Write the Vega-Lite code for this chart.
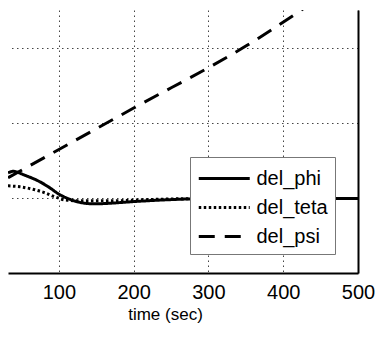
{
  "$schema": "https://vega.github.io/schema/vega-lite/v6.json",
  "width": 350,
  "height": 263,
  "autosize": {"type": "none"},
  "padding": {"left": 8, "top": 10, "right": 19, "bottom": 69},
  "background": "white",
  "config": {
    "view": {"stroke": null},
    "font": "Liberation Sans",
    "axis": {"labelFont": "Liberation Sans", "titleFont": "Liberation Sans", "labelColor": "black", "titleColor": "black"}
  },
  "data": {
    "values": [
      {"t": 32, "v": 0.333, "s": "del_phi"},
      {"t": 38.7, "v": 0.353, "s": "del_phi"},
      {"t": 54.7, "v": 0.3, "s": "del_phi"},
      {"t": 74.8, "v": 0.213, "s": "del_phi"},
      {"t": 88, "v": 0.133, "s": "del_phi"},
      {"t": 100, "v": 0.05, "s": "del_phi"},
      {"t": 115, "v": -0.02, "s": "del_phi"},
      {"t": 128, "v": -0.06, "s": "del_phi"},
      {"t": 148, "v": -0.08, "s": "del_phi"},
      {"t": 168, "v": -0.072, "s": "del_phi"},
      {"t": 195, "v": -0.053, "s": "del_phi"},
      {"t": 235, "v": -0.03, "s": "del_phi"},
      {"t": 275, "v": -0.015, "s": "del_phi"},
      {"t": 355, "v": -0.007, "s": "del_phi"},
      {"t": 500, "v": -0.007, "s": "del_phi"},
      {"t": 32, "v": 0.16, "s": "del_teta"},
      {"t": 48, "v": 0.147, "s": "del_teta"},
      {"t": 68, "v": 0.107, "s": "del_teta"},
      {"t": 81.5, "v": 0.067, "s": "del_teta"},
      {"t": 95, "v": 0.013, "s": "del_teta"},
      {"t": 108, "v": -0.027, "s": "del_teta"},
      {"t": 128, "v": -0.04, "s": "del_teta"},
      {"t": 168, "v": -0.04, "s": "del_teta"},
      {"t": 208.5, "v": -0.027, "s": "del_teta"},
      {"t": 262, "v": -0.013, "s": "del_teta"},
      {"t": 500, "v": -0.007, "s": "del_teta"},
      {"t": 32, "v": 0.267, "s": "del_psi"},
      {"t": 200, "v": 1.195, "s": "del_psi"},
      {"t": 350, "v": 2.02, "s": "del_psi"},
      {"t": 500, "v": 3.025, "s": "del_psi"}
    ]
  },
  "mark": {"type": "line", "color": "black", "strokeWidth": 3, "clip": true, "interpolate": "monotone"},
  "encoding": {
    "x": {
      "field": "t", "type": "quantitative", "title": "time (sec)",
      "scale": {"domain": [32, 500], "nice": false, "zero": false},
      "axis": {
        "values": [100, 200, 300, 400, 500],
        "grid": true, "gridDash": [1.5, 3.5], "gridColor": "#444", "gridOpacity": 1, "gridWidth": 1,
        "domainColor": "black", "domainWidth": 2, "ticks": false,
        "labelFontSize": 20, "labelPadding": 9, "labelFlush": false,
        "titleFontSize": 17, "titleFontWeight": "normal", "titlePadding": 4, "titleX": 157
      }
    },
    "y": {
      "field": "v", "type": "quantitative",
      "scale": {"domain": [-1, 2.5], "nice": false, "zero": false},
      "axis": {
        "orient": "right", "values": [-1, 0, 1, 2], "labels": false, "ticks": false, "title": null,
        "grid": true, "gridDash": [1.5, 3.5], "gridColor": "#444", "gridOpacity": 1, "gridWidth": 1,
        "domainColor": "black", "domainWidth": 2
      }
    },
    "strokeDash": {
      "field": "s", "type": "nominal",
      "scale": {"domain": ["del_phi", "del_teta", "del_psi"], "range": [[1, 0], [2.5, 2.5], [16, 10]]},
      "legend": {
        "title": null, "orient": "none", "legendX": 182, "legendY": 147,
        "fillColor": "white", "strokeColor": "#777", "padding": 7,
        "symbolType": "M-1,0L3,0", "symbolSize": 650, "symbolStrokeWidth": 3, "symbolStrokeColor": "black",
        "labelFontSize": 20, "labelFont": "Liberation Sans", "labelColor": "black", "labelOffset": 30.5,
        "rowPadding": 4
      }
    }
  }
}
